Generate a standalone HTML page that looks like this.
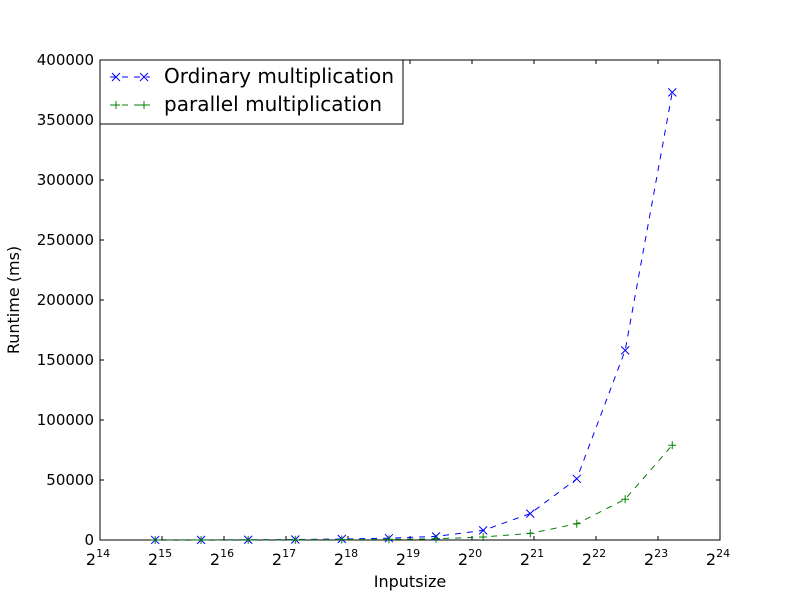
<!DOCTYPE html>
<html><head><meta charset="utf-8"><style>
body{margin:0;background:#fff;font-family:"Liberation Sans","DejaVu Sans",sans-serif}
text{font-family:"DejaVu Sans","Liberation Sans",sans-serif}
</style></head><body>
<svg id="chart" width="800" height="600" xmlns="http://www.w3.org/2000/svg"></svg>
<script>
const xExp=[14.89,15.63,16.39,17.15,17.90,18.66,19.42,20.18,20.94,21.69,22.47,23.23];
const ordinary=[50,100,200,400,800,1500,3000,8000,22000,51000,158000,373000];
const parallel=[20,40,80,150,300,500,1000,2500,5500,13500,34000,79000];
const xTicks=[14,15,16,17,18,19,20,21,22,23,24];
const yTicks=[0,50000,100000,150000,200000,250000,300000,350000,400000];
const L=100,R=720,T=60,B=540;
const sx=e=>L+(e-14)/10*(R-L);
const sy=v=>B-v/400000*(B-T);
const svg=document.getElementById('chart');
const NS='http://www.w3.org/2000/svg';
function add(tag,attrs,parent){const el=document.createElementNS(NS,tag);for(const k in attrs)el.setAttribute(k,attrs[k]);(parent||svg).appendChild(el);return el;}
let frame=add('rect',{x:L,y:T,width:R-L,height:B-T,fill:'none',stroke:'#000'});


xTicks.forEach(e=>{const x=sx(e);
 add('line',{x1:x,y1:B,x2:x,y2:B-4,stroke:'#000'});add('line',{x1:x,y1:T,x2:x,y2:T+4,stroke:'#000'});
 const t=add('text',{x:x-2,y:B+25,'text-anchor':'middle','font-size':16});
 
 
 t.textContent='2';const s=add('tspan',{dy:-8,'font-size':11},t);s.textContent=e;});
yTicks.forEach(v=>{const y=sy(v);
 add('line',{x1:L,y1:y,x2:L+4,y2:y,stroke:'#000'});add('line',{x1:R,y1:y,x2:R-4,y2:y,stroke:'#000'});
 const t=add('text',{x:L-6,y:y+5,'text-anchor':'end','font-size':15});
 
 
 t.textContent=v;});
let xl=add('text',{x:410,y:587,'text-anchor':'middle','font-size':16});xl.textContent='Inputsize';


let yl=add('text',{x:19,y:300,'text-anchor':'middle','font-size':16,transform:'rotate(-90 19 300)'});yl.textContent='Runtime (ms)';


function xmark(x,y,c,g){add('path',{d:`M${x-4},${y-4}L${x+4},${y+4}M${x-4},${y+4}L${x+4},${y-4}`,stroke:c,fill:'none'},g);}
function pmark(x,y,c,g){add('path',{d:`M${x-4},${y}L${x+4},${y}M${x},${y-4}L${x},${y+4}`,stroke:c,fill:'none'},g);}
function series(vals,c,mk,name){const g=add('g',{});
 
 
 add('polyline',{points:vals.map((v,i)=>sx(xExp[i])+','+sy(v)).join(' '),fill:'none',stroke:c,'stroke-dasharray':'6,6'},g);
 vals.forEach((v,i)=>mk(sx(xExp[i]),sy(v),c,g));}
series(ordinary,'#0000ff',xmark,'series-ordinary');
series(parallel,'#008000',pmark,'series-parallel');
const lg=add('g',{});


add('rect',{x:100,y:60,width:303,height:64,fill:'#fff',stroke:'#000'},lg);
add('line',{x1:110,y1:77,x2:150,y2:77,stroke:'#0000ff','stroke-dasharray':'6,6'},lg);
xmark(116,77,'#0000ff',lg);xmark(144,77,'#0000ff',lg);
let t1=add('text',{x:164,y:83,'font-size':20,textLength:230},lg);t1.textContent='Ordinary multiplication';


add('line',{x1:110,y1:105,x2:150,y2:105,stroke:'#008000','stroke-dasharray':'6,6'},lg);
pmark(116,105,'#008000',lg);pmark(144,105,'#008000',lg);
let t2=add('text',{x:164,y:111,'font-size':20,textLength:218},lg);t2.textContent='parallel multiplication';


</script>
</body></html>
